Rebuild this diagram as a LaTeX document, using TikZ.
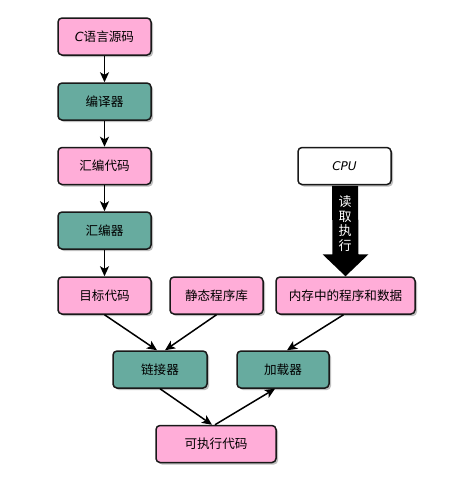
\documentclass[tikz,border=0pt]{standalone}
\usepackage{fontspec}
\newfontfamily\cjk{Noto Sans CJK SC}
\newfontfamily\latf{DejaVu Sans}
\usetikzlibrary{arrows.meta,shadows,calc}
\definecolor{pinkbox}{HTML}{FFADD8}
\definecolor{tealbox}{HTML}{67AB9F}
\tikzset{
  box/.style={draw=black!90, line width=1.5pt, rounded corners=4pt, minimum height=37pt,
    inner sep=0pt, font=\cjk\fontsize{12.6}{14}\selectfont,
    drop shadow={shadow xshift=2pt, shadow yshift=-2pt, fill=black, opacity=0.25}},
  pbox/.style={box, fill=pinkbox},
  tbox/.style={box, fill=tealbox},
  wbox/.style={box, fill=white},
  conn/.style={line width=1.5pt, -{Stealth[length=10pt,width=9pt,inset=2.5pt]}},
}
\begin{document}
\begin{tikzpicture}[x=1pt,y=-1pt]
\useasboundingbox (0,0) rectangle (465,483);
\node[pbox, minimum width=93pt] (src) at (104.5,36.5) {{\latf\itshape C}语言源码};
\node[tbox, minimum width=93pt] (comp) at (104.5,101.5) {编译器};
\node[pbox, minimum width=93pt] (asmcode) at (104.5,166) {汇编代码};
\node[tbox, minimum width=93pt] (asm) at (104.5,230.5) {汇编器};
\node[pbox, minimum width=93pt] (obj) at (104.5,295.5) {目标代码};
\node[pbox, minimum width=93pt] (lib) at (216.5,295.5) {静态程序库};
\node[wbox, minimum width=93pt] (cpu) at (344.5,166) {{\latf\itshape\fontsize{12}{14}\selectfont CPU}};
\node[pbox, minimum width=139pt] (mem) at (345.5,295.5) {内存中的程序和数据};
\node[tbox, minimum width=94pt] (link) at (160,369.5) {链接器};
\node[tbox, minimum width=92pt] (load) at (283,369.5) {加载器};
\node[pbox, minimum width=120pt] (exe) at (216,444) {可执行代码};

\draw[conn] (src) -- (comp);
\draw[conn] (comp) -- (asmcode);
\draw[conn] (asmcode) -- (asm);
\draw[conn] (asm) -- (obj);
\draw[conn] (obj.south) -- ([xshift=-3pt]link.north);
\draw[conn] (lib.south) -- ([xshift=5pt]link.north);
\draw[conn] ([xshift=-2pt]mem.south) -- ([xshift=4pt]load.north);
\draw[conn] (link.south) -- ([xshift=-4pt]exe.north);
\draw[conn] ([xshift=-1pt]exe.north) -- ([xshift=-8pt]load.south);

\coordinate (bt) at ($(cpu.south)+(0.5,0.7)$);
\coordinate (bb) at (mem.north);
\fill[black] ($(bt)+(-13,0)$) -- ($(bt)+(13,0)$) -- ($(bb)+(13,-22)$) -- ($(bb)+(23,-22)$)
  -- (bb) -- ($(bb)+(-23,-22)$) -- ($(bb)+(-13,-22)$) -- cycle;
\node[text=white, font=\cjk\fontsize{13}{14.5}\selectfont, align=center, inner sep=0pt, anchor=north]
  (lbl) at ($(bt)+(0,9.5)$) {读\\取\\执\\行};
\end{tikzpicture}
\end{document}
